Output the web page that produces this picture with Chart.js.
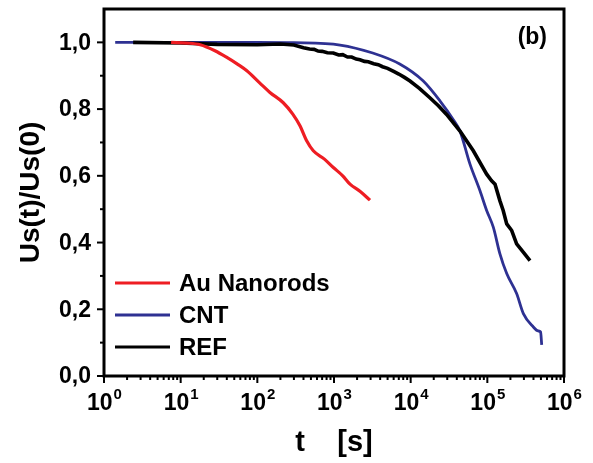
<!DOCTYPE html>
<html lang="en">
<head>
<meta charset="UTF-8">
<title>Us(t)/Us(0) vs t</title>
<script src="https://cdn.jsdelivr.net/npm/chart.js"></script>
<style>
    body { margin: 0; background: #fff; }
    .wrap { width: 593px; height: 463px; }
</style>
</head>
<body>
<div class="wrap"><canvas id="decay"></canvas></div>
<script>
    // values
    const auT = [7.5, 12, 18, 28, 40, 55, 73, 108, 146, 218, 290, 360, 440, 537, 750, 980, 1300, 1617, 2200, 2950];
    const auY = [1.0, 0.998, 0.993, 0.975, 0.955, 0.935, 0.915, 0.878, 0.85, 0.819, 0.785, 0.75, 0.705, 0.675, 0.65, 0.625, 0.6, 0.575, 0.553, 0.527];

    const cntT = [1.4, 10, 100, 300, 1200, 3200, 7200, 14600, 24200, 36000, 44000, 59400, 80200, 98000, 119600, 146000, 179000, 241000, 295000, 398000, 460000, 495000, 512000];
    const cntY = [1.0, 1.0, 1.0, 0.999, 0.992, 0.968, 0.935, 0.884, 0.824, 0.768, 0.734, 0.635, 0.555, 0.496, 0.446, 0.366, 0.307, 0.247, 0.187, 0.147, 0.135, 0.132, 0.093];

    const refT = [2.4, 10, 30, 100, 200, 300, 400, 480, 550, 620, 700, 820, 980, 1150, 1300, 1500, 1700, 1950, 2180, 2500, 2800, 3300, 3780, 4300, 5000, 6000, 7000, 8300, 9800, 13000, 17800, 23000, 29400, 44000, 65600, 98000, 113700, 126000, 146000, 161000, 179000, 208000, 241000, 294000, 360000];
    const refY = [1.0, 0.998, 0.994, 0.993, 0.995, 0.992, 0.984, 0.980, 0.979, 0.974, 0.973, 0.969, 0.968, 0.962, 0.963, 0.956, 0.956, 0.950, 0.948, 0.943, 0.942, 0.936, 0.933, 0.927, 0.922, 0.913, 0.905, 0.895, 0.884, 0.862, 0.834, 0.81, 0.784, 0.734, 0.675, 0.605, 0.585, 0.575, 0.525, 0.496, 0.456, 0.436, 0.396, 0.371, 0.346];

    const yTicks = [0, 0.2, 0.4, 0.6, 0.8, 1.0];
    const xDecades = [0, 1, 2, 3, 4, 5, 6];

    const FONT = '"Liberation Sans", Arial, sans-serif';

    const toPoints = (ts, ys) => ts.map((t, i) => ({ x: t, y: ys[i] }));

    // frame, ticks, tick labels, legend and panel letter
    const decorations = {
        id: 'decorations',
        afterDraw(chart) {
            const { ctx, chartArea: a, scales: { x, y } } = chart;
            ctx.save();
            ctx.strokeStyle = '#000';
            ctx.fillStyle = '#000';

            // x ticks: decades and minor ticks
            ctx.lineWidth = 2;
            xDecades.forEach(n => {
                const px = x.getPixelForValue(Math.pow(10, n));
                ctx.beginPath();
                ctx.moveTo(px, a.bottom);
                ctx.lineTo(px, a.bottom + 7);
                ctx.stroke();
                if (n < 6) {
                    for (let k = 2; k < 10; k++) {
                        const mx = x.getPixelForValue(k * Math.pow(10, n));
                        ctx.beginPath();
                        ctx.moveTo(mx, a.bottom);
                        ctx.lineTo(mx, a.bottom + 4);
                        ctx.stroke();
                    }
                }
                // label 10^n
                ctx.font = 'bold 23px ' + FONT;
                const baseW = ctx.measureText('10').width;
                ctx.font = 'bold 15px ' + FONT;
                const supW = ctx.measureText(String(n)).width;
                const left = px - (baseW + supW) / 2;
                ctx.textAlign = 'left';
                ctx.textBaseline = 'alphabetic';
                ctx.font = 'bold 23px ' + FONT;
                ctx.fillText('10', left, a.bottom + 34);
                ctx.font = 'bold 15px ' + FONT;
                ctx.fillText(String(n), left + baseW + 1, a.bottom + 23);
            });

            // y ticks
            for (let i = 0; i <= 10; i++) {
                const v = i / 10;
                const py = y.getPixelForValue(v);
                const major = i % 2 === 0;
                ctx.beginPath();
                ctx.moveTo(a.left, py);
                ctx.lineTo(a.left - (major ? 7 : 4), py);
                ctx.stroke();
            }
            ctx.font = 'bold 23px ' + FONT;
            ctx.textAlign = 'right';
            ctx.textBaseline = 'middle';
            yTicks.forEach(v => {
                ctx.fillText(v.toFixed(1).replace('.', ','), a.left - 13, y.getPixelForValue(v) + 1);
            });

            // frame
            ctx.lineWidth = 3;
            ctx.strokeRect(a.left, a.top, a.right - a.left, a.bottom - a.top);

            // legend inside the plot
            ctx.font = 'bold 24px ' + FONT;
            ctx.textAlign = 'left';
            chart.data.datasets.forEach((ds, i) => {
                const ly = a.top + 274 + i * 32;
                ctx.strokeStyle = ds.borderColor;
                ctx.lineWidth = 3;
                ctx.beginPath();
                ctx.moveTo(a.left + 11, ly);
                ctx.lineTo(a.left + 66, ly);
                ctx.stroke();
                ctx.fillText(ds.label, a.left + 75, ly + 1);
            });

            // panel letter
            ctx.font = 'bold 23px ' + FONT;
            ctx.textAlign = 'right';
            ctx.fillText('(b)', a.right - 17, a.top + 29);
            ctx.restore();
        }
    };

    new Chart(document.getElementById('decay'), {
        type: 'line',
        data: {
            datasets: [
                {
                    label: 'Au Nanorods',
                    data: toPoints(auT, auY),
                    borderColor: '#ee1d23',
                    borderWidth: 3.2,
                    cubicInterpolationMode: 'monotone',
                    order: 0
                },
                {
                    label: 'CNT',
                    data: toPoints(cntT, cntY),
                    borderColor: '#2e3192',
                    borderWidth: 2.8,
                    cubicInterpolationMode: 'monotone',
                    order: 2
                },
                {
                    label: 'REF',
                    data: toPoints(refT, refY),
                    borderColor: '#000000',
                    borderWidth: 3.6,
                    order: 1
                }
            ]
        },
        options: {
            responsive: true,
            maintainAspectRatio: false,
            animation: false,
            events: [],
            elements: { point: { radius: 0 } },
            layout: { padding: { top: 9, right: 29, left: 0, bottom: 0 } },
            plugins: {
                legend: { display: false },
                tooltip: { enabled: false }
            },
            scales: {
                x: {
                    type: 'logarithmic',
                    min: 1,
                    max: 1e6,
                    grid: { display: false },
                    border: { display: false },
                    ticks: { display: false },
                    title: {
                        display: true,
                        text: 't    [s]',
                        color: '#000',
                        font: { family: FONT, size: 29, weight: 'bold' },
                        padding: { top: 0, bottom: 3 }
                    },
                    afterFit: s => { s.height = 87; }
                },
                y: {
                    min: 0,
                    max: 1.1,
                    grid: { display: false },
                    border: { display: false },
                    ticks: { display: false },
                    title: {
                        display: true,
                        text: 'Us(t)/Us(0)',
                        color: '#000',
                        font: { family: FONT, size: 28, weight: 'bold' },
                        padding: { top: 14, bottom: 0 }
                    },
                    afterFit: s => { s.width = 104; }
                }
            }
        },
        plugins: [decorations]
    });
</script>
</body>
</html>
